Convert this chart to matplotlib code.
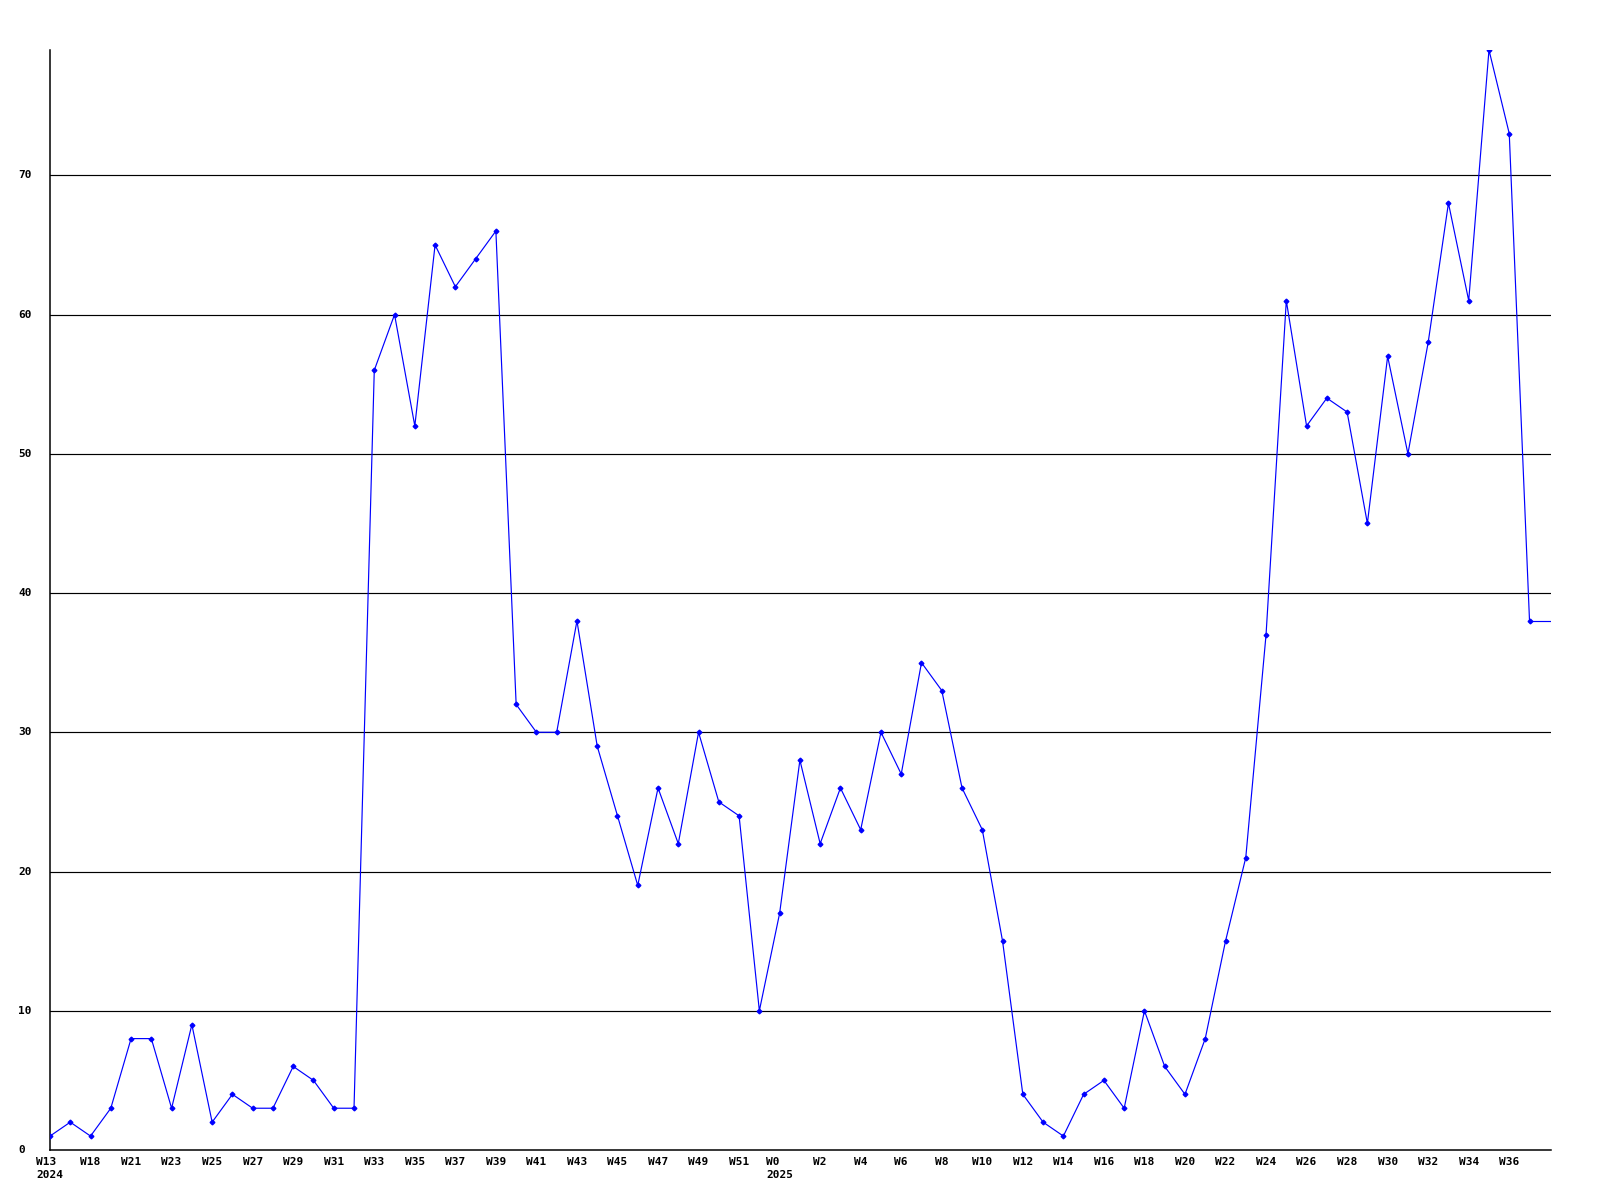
import matplotlib
matplotlib.use("Agg")
import matplotlib.pyplot as plt

# weekly values
values = [1, 2, 1, 3, 8, 8, 3, 9, 2, 4,
          3, 3, 6, 5, 3, 3, 56, 60, 52, 65,
          62, 64, 66, 32, 30, 30, 38, 29, 24, 19,
          26, 22, 30, 25, 24, 10, 17, 28, 22, 26,
          23, 30, 27, 35, 33, 26, 23, 15, 4, 2,
          1, 4, 5, 3, 10, 6, 4, 8, 15, 21,
          37, 61, 52, 54, 53, 45, 57, 50, 58, 68,
          61, 79, 73, 38]

tick_idx = list(range(0, 74, 2))
tick_labels = ["W13\n2024", "W18", "W21", "W23", "W25", "W27", "W29", "W31",
               "W33", "W35", "W37", "W39", "W41", "W43", "W45", "W47", "W49",
               "W51", "W0  \n2025", "W2", "W4", "W6", "W8", "W10", "W12", "W14",
               "W16", "W18", "W20", "W22", "W24", "W26", "W28", "W30", "W32",
               "W34", "W36"]
y_ticks = [0, 10, 20, 30, 40, 50, 60, 70]

x = list(range(len(values)))
x_end = len(values) - 1 + 1.06

fig = plt.figure(figsize=(16, 12), dpi=100)
ax = fig.add_axes([50 / 1600, 50 / 1200, 1501 / 1600, 1100 / 1200])

for yv in y_ticks[1:]:
    ax.axhline(yv, color="black", lw=0.85, zorder=1)

ax.plot(x, values, color="#0000ff", lw=0.85, marker="D", markersize=2.4, zorder=3)
ax.plot([x[-1], x_end], [values[-1], values[-1]], color="#0000ff", lw=0.85, zorder=3)

ax.set_xlim(0, x_end)
ax.set_ylim(0, max(values))

for s in ["top", "right"]:
    ax.spines[s].set_visible(False)
for s in ["left", "bottom"]:
    ax.spines[s].set_linewidth(1.1)

font = dict(family="DejaVu Sans Mono", weight="bold", size=8)
ax.set_xticks(tick_idx)
ax.set_xticklabels(tick_labels, fontdict=font, ha="center", ma="left", linespacing=1.35)
ax.set_yticks(y_ticks)
ax.set_yticklabels([str(v) for v in y_ticks], fontdict=font, ha="left", va="center")
ax.tick_params(axis="x", length=0, pad=5)
ax.tick_params(axis="y", length=0, pad=23)

fig.savefig("out.png", dpi=100, facecolor="white")
